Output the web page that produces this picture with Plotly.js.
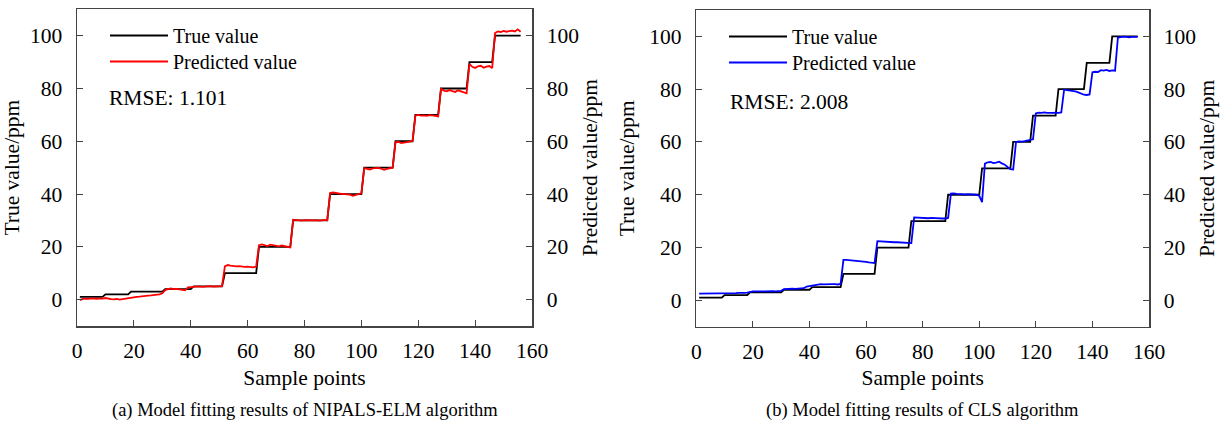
<!DOCTYPE html>
<html>
<head>
<meta charset="utf-8">
<script src="https://cdn.plot.ly/plotly-3.0.1.min.js"></script>
<style>html,body{margin:0;padding:0;background:#fff;}#chart{width:1224px;height:427px;}</style>
</head>
<body>
<div id="chart"></div>
<script>
// Sample index 1..156
const samplePoints = Array.from({length: 156}, (_, i) => i + 1);

// True concentration (ppm), stepwise
const trueLevels = [1, 2, 3, 4, 5, 10, 20, 30, 40, 50, 60, 70, 80, 90, 100];
const levelCounts = [9, 9, 12, 10, 11, 12, 12, 13, 12, 11, 7, 9, 10, 9, 10];
const trueValue = [];
trueLevels.forEach((v, k) => { for (let j = 0; j < levelCounts[k]; j++) trueValue.push(v); });

// (a) NIPALS-ELM predictions
const predELM = [
  -0.2, 0.3, 0.4, 0.3, 0.5, 0.4, 0.3, 0.5, 0.4,
  0.6, 0.3, 0.2, 0.1, 0.3, 0.0, 0.2, 0.4, 0.6,
  0.8, 0.9, 1.0, 1.1, 1.3, 1.4, 1.5, 1.6, 1.7, 1.9, 2.0, 2.4,
  3.6, 4.0, 4.2, 4.0, 4.1, 3.9, 3.8, 3.5, 4.6, 4.8,
  4.8, 4.9, 5.0, 4.8, 4.9, 5.0, 5.1, 4.9, 5.0, 5.0, 5.1,
  12.6, 13.1, 12.9, 12.7, 12.6, 12.7, 12.5, 12.4, 12.5, 12.3, 12.2, 12.5,
  20.6, 20.9, 20.5, 20.3, 20.8, 20.6, 20.4, 20.2, 20.5, 20.3, 20.1, 19.8,
  30.3, 30.2, 30.0, 29.9, 30.1, 30.0, 29.9, 30.0, 30.1, 29.9, 30.0, 30.2, 30.1,
  40.4, 40.6, 40.3, 40.2, 40.1, 40.0, 40.1, 39.8, 39.3, 39.7, 40.0, 40.3,
  49.8, 49.6, 49.3, 49.7, 49.8, 49.9, 49.6, 49.2, 49.5, 49.8, 50.0,
  59.6, 59.8, 59.3, 59.4, 59.7, 59.9, 60.2,
  69.8, 70.0, 69.7, 69.8, 69.6, 69.9, 69.8, 69.5, 69.4,
  79.9, 79.2, 78.9, 79.4, 79.0, 78.7, 79.3, 79.0, 78.6, 78.2,
  89.3, 88.2, 87.8, 88.4, 88.6, 87.9, 88.3, 88.5, 87.7,
  101.0, 101.6, 101.4, 101.8, 101.5, 101.7, 101.9, 101.6, 102.4, 101.5
];

// (b) CLS predictions
const predCLS = [
  2.5, 2.5, 2.6, 2.5, 2.5, 2.6, 2.5, 2.6, 2.6,
  2.6, 2.7, 2.6, 2.7, 2.7, 2.8, 2.7, 2.8, 2.9,
  3.3, 3.4, 3.4, 3.3, 3.4, 3.4, 3.5, 3.4, 3.5, 3.4, 3.5, 3.6,
  4.2, 4.3, 4.3, 4.4, 4.3, 4.4, 4.5, 4.6, 5.2, 5.4,
  5.5, 5.9, 6.0, 6.1, 6.0, 6.1, 6.0, 6.1, 6.1, 6.0, 6.2,
  15.3, 15.3, 15.2, 15.2, 15.1, 15.1, 15.0, 14.8, 14.6, 14.4, 14.2, 14.1,
  22.4, 22.3, 22.2, 22.2, 22.1, 22.1, 22.0, 22.0, 21.9, 21.9, 21.8, 21.7,
  21.7, 31.4, 31.3, 31.2, 31.3, 31.2, 31.1, 31.2, 31.1, 31.0, 31.1, 31.0, 31.0,
  31.2, 40.4, 40.5, 40.3, 40.2, 40.3, 40.1, 40.2, 40.1, 40.0, 40.0, 39.6,
  37.2, 51.8, 52.3, 52.4, 52.0, 52.2, 52.5, 51.9, 51.4, 50.5, 49.7,
  49.6, 60.0, 60.2, 60.1, 60.3, 60.5, 60.8,
  61.0, 70.8, 71.1, 71.0, 71.2, 71.0, 70.9, 71.0, 71.1,
  71.0, 71.2, 79.8, 79.6, 79.5, 79.3, 79.2, 78.8, 78.3, 77.9,
  77.8, 78.0, 86.4, 86.6, 86.5, 87.2, 87.0, 87.3, 86.9,
  87.1, 87.0, 99.5, 99.7, 99.9, 99.8, 99.6, 99.8, 99.7, 99.8
];

const xTicks = [0, 20, 40, 60, 80, 100, 120, 140, 160];
const yTicks = [0, 20, 40, 60, 80, 100];
const rmseA = 'RMSE: 1.101';
const rmseB = 'RMSE: 2.008';
const captionA = '(a) Model fitting results of NIPALS-ELM algorithm';
const captionB = '(b) Model fitting results of CLS algorithm';

const W = 1224, H = 427;
const px = v => v / W;
const py = v => 1 - v / H;
const FONT = "'Liberation Serif', 'Times New Roman', serif";
const AX = '#444';
const FS = 21.5;

const traces = [
  {x: samplePoints, y: trueValue, xaxis: 'x', yaxis: 'y', mode: 'lines', name: 'True value',
   line: {color: '#000', width: 1.8}, legend: 'legend'},
  {x: samplePoints, y: predELM, xaxis: 'x', yaxis: 'y2', mode: 'lines', name: 'Predicted value',
   line: {color: '#ff0000', width: 1.8}, legend: 'legend2'},
  {x: samplePoints, y: trueValue, xaxis: 'x2', yaxis: 'y3', mode: 'lines', name: 'True value',
   line: {color: '#000', width: 1.8}, legend: 'legend3'},
  {x: samplePoints, y: predCLS, xaxis: 'x2', yaxis: 'y4', mode: 'lines', name: 'Predicted value',
   line: {color: '#0000ff', width: 1.8}, legend: 'legend4'}
];

function xAx(dom, anchor) {
  return {domain: dom, anchor: anchor, range: [0, 160], tickvals: xTicks, ticks: 'inside', ticklen: 6,
    tickcolor: AX, showline: true, linecolor: AX, linewidth: 1.5, mirror: true, showgrid: false, zeroline: false,
    tickfont: {family: FONT, size: FS, color: '#000'}, ticklabelstandoff: 5,
    title: {text: 'Sample points', font: {family: FONT, size: FS, color: '#000'}, standoff: 7}};
}
function yAx(dom, anchor, side, title, overlay) {
  const a = {domain: dom, anchor: anchor, side: side, range: [-10, 110], tickvals: yTicks, ticks: 'inside', ticklen: 6,
    tickcolor: AX, showline: true, linecolor: AX, linewidth: 1.5, showgrid: false, zeroline: false,
    tickfont: {family: FONT, size: FS, color: '#000'}, ticklabelstandoff: 9,
    title: {text: title, font: {family: FONT, size: FS, color: '#000'}, standoff: overlay ? 4 : 8}};
  if (overlay) { a.overlaying = overlay; delete a.domain; }
  return a;
}

const xdA = [px(77), px(532)], xdB = [px(696.3), px(1149)];
const ydA = [py(326), py(9.3)], ydB = [py(326.7), py(10)];

const legendCommon = {font: {family: FONT, size: 20, color: '#000'}, bgcolor: 'rgba(0,0,0,0)',
  borderwidth: 0, itemwidth: 58, tracegroupgap: 0, xanchor: 'left', yanchor: 'top'};

const layout = {
  width: W, height: H,
  margin: {l: 0, r: 0, t: 0, b: 0},
  paper_bgcolor: '#fff', plot_bgcolor: '#fff',
  showlegend: true,
  xaxis: xAx(xdA, 'y'),
  yaxis: yAx(ydA, 'x', 'left', 'True value/ppm'),
  yaxis2: yAx(null, 'x', 'right', 'Predicted value/ppm', 'y'),
  xaxis2: xAx(xdB, 'y3'),
  yaxis3: yAx(ydB, 'x2', 'left', 'True value/ppm'),
  yaxis4: yAx(null, 'x2', 'right', 'Predicted value/ppm', 'y3'),
  legend: Object.assign({}, legendCommon, {x: px(105), y: py(16)}),
  legend2: Object.assign({}, legendCommon, {x: px(105), y: py(42)}),
  legend3: Object.assign({}, legendCommon, {x: px(724), y: py(17)}),
  legend4: Object.assign({}, legendCommon, {x: px(724), y: py(43)}),
  annotations: [
    {text: rmseA, xref: 'paper', yref: 'paper', x: px(107), y: py(98), xanchor: 'left', yanchor: 'middle',
     showarrow: false, font: {family: FONT, size: 21.5, color: '#000'}},
    {text: rmseB, xref: 'paper', yref: 'paper', x: px(728), y: py(102), xanchor: 'left', yanchor: 'middle',
     showarrow: false, font: {family: FONT, size: 21.5, color: '#000'}},
    {text: captionA, xref: 'paper', yref: 'paper', x: px(305), y: py(410), xanchor: 'center', yanchor: 'middle',
     showarrow: false, font: {family: FONT, size: 18.5, color: '#000'}},
    {text: captionB, xref: 'paper', yref: 'paper', x: px(922), y: py(410), xanchor: 'center', yanchor: 'middle',
     showarrow: false, font: {family: FONT, size: 18.5, color: '#000'}}
  ]
};

Plotly.newPlot('chart', traces, layout, {displayModeBar: false, staticPlot: true});
</script>
</body>
</html>
